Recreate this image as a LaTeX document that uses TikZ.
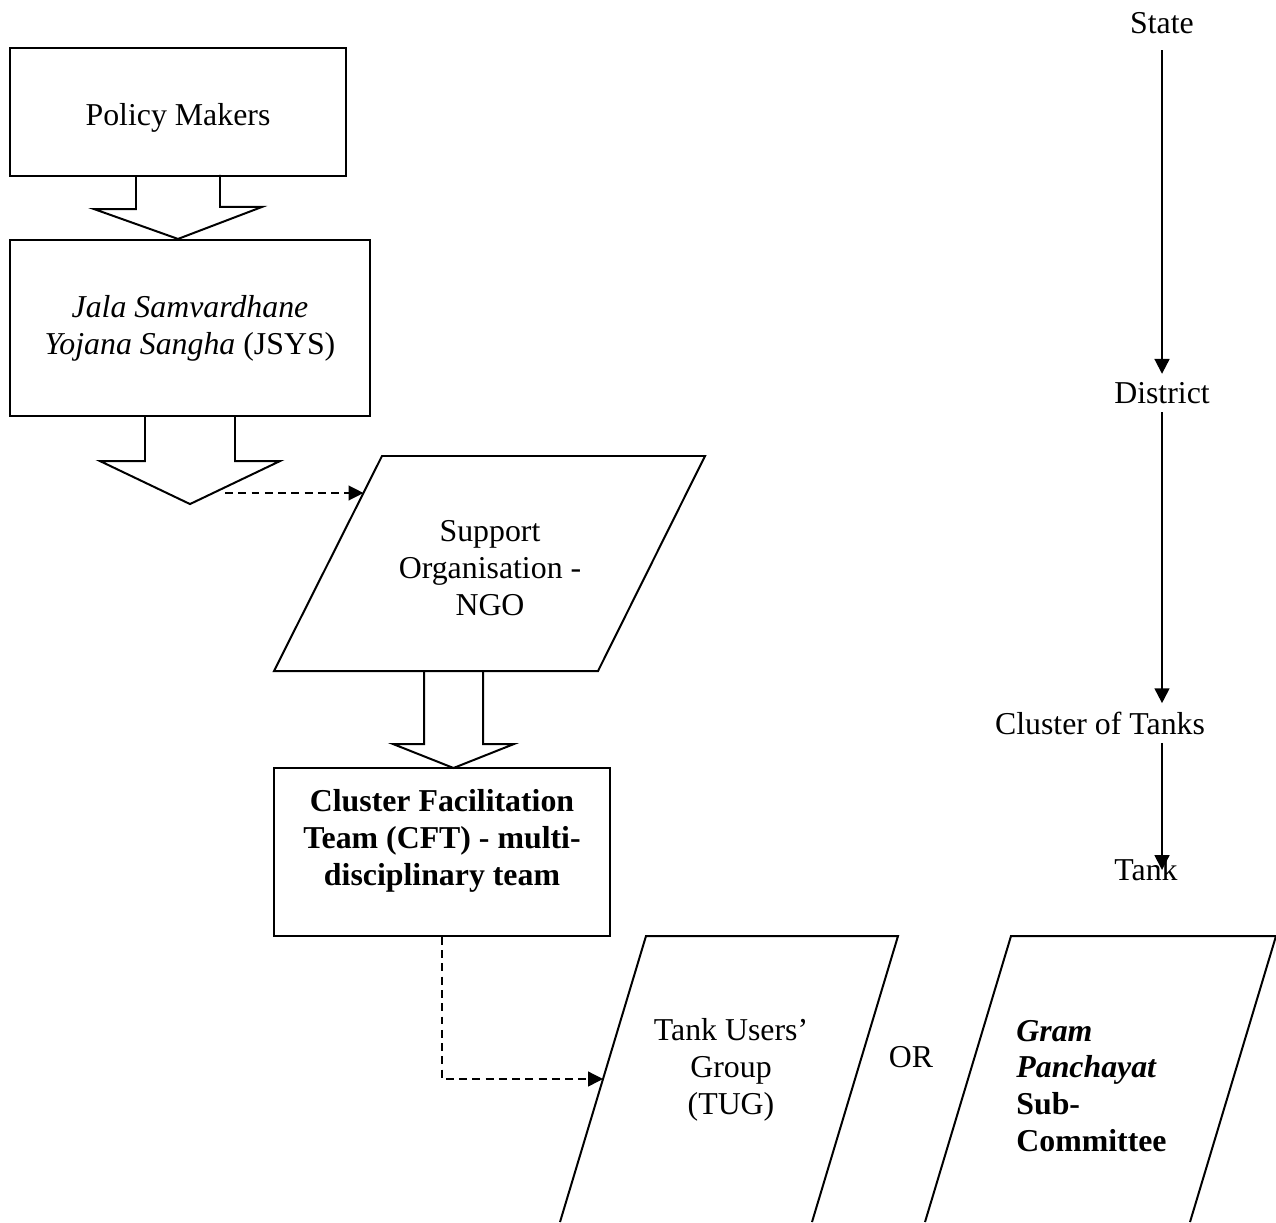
\documentclass[tikz,border=0pt]{standalone}
\usepackage{fontspec}
\setmainfont{Liberation Serif}
\usetikzlibrary{positioning, arrows.meta, calc}

\begin{document}
\begin{tikzpicture}[
    x=0.377pt, y=-0.377pt, % one unit = one pixel of the layout, y downwards
    font=\fontsize{12pt}{13.9pt}\selectfont,
    % Styles
    box/.style={ % Rectangular boxes
        draw,
        line width=0.75pt,
        align=center
    },
    level/.style={ % Levels on the right
        inner sep=3pt
    },
    arrow/.style={
        -{Triangle[width=5.6pt, length=5.6pt]},
        line width=0.75pt
    },
    linkarrow/.style={ % Dashed links
        arrow,
        line width=0.5pt,
        dash pattern=on 3pt off 2pt
    },
    blockarrow/.style={ % Hollow arrows between boxes
        line width=0.75pt,
        line join=miter
    },
    slanted/.style={ % Parallelograms
        line width=0.75pt,
        line join=miter
    }
]
    \useasboundingbox (0,0) rectangle (1276,1222);

    % Boxes on the left
    \node[box, minimum width=126.7pt, minimum height=48.3pt, text height=13pt] (pm) at (178,112) {Policy Makers};
    \node[box, minimum width=135.7pt, minimum height=66.4pt] (jsys) at (190,328)
        {\textit{Jala Samvardhane}\\\textit{Yojana Sangha} (JSYS)};
    \node[box, minimum width=126.7pt, minimum height=63.3pt] (cft) at (442,852) {};
    \node[font=\fontsize{12pt}{13.9pt}\selectfont\bfseries, align=center, anchor=north] (cfttext)
        at ($(cft.north)+(0,13)$) {Cluster Facilitation\\Team (CFT) - multi-\\disciplinary team};

    % Support organisation
    \coordinate (ngoTL) at (382,456);
    \coordinate (ngoTR) at (705,456);
    \coordinate (ngoBR) at (598,671);
    \coordinate (ngoBL) at (274,671);
    \draw[slanted] (ngoTL) -- (ngoTR) -- (ngoBR) -- (ngoBL) -- cycle;
    \node[align=center] (ngo) at (490,568) {Support\\Organisation -\\NGO};
    \coordinate (ngoin) at ($(ngoTL)!0.172!(ngoBL)$);

    % Tank level bodies
    \coordinate (tugTL) at (646,936);
    \coordinate (tugTR) at (898,936);
    \coordinate (tugBR) at (812,1222);
    \coordinate (tugBL) at (560,1222);
    \draw[slanted] (tugBL) -- (tugTL) -- (tugTR) -- (tugBR);
    \node[align=center] (tug) at (731,1070) {Tank Users’\\Group\\(TUG)};
    \coordinate (tugin) at ($(tugTL)!0.5!(tugBL)$);

    \node (or) at (911,1057) {OR};

    \coordinate (gpTL) at (1011,936);
    \coordinate (gpTR) at (1276,936);
    \coordinate (gpBR) at (1190,1222);
    \coordinate (gpBL) at (925,1222);
    \draw[slanted] (gpBL) -- (gpTL) -- (gpTR) -- (gpBR);
    \node[align=left, anchor=west, font=\fontsize{12pt}{13.9pt}\selectfont\bfseries] (gp) at (1007,1086)
        {\textit{Gram}\\\textit{Panchayat}\\Sub-\\Committee};

    % Hollow arrows
    \draw[blockarrow] ($(pm.south)+(-42,0)$) -- ++(0,32) -- ++(-42,0) -- (pm.south |- jsys.north)
        -- ++(84,-32) -- ++(-42,0) -- ++(0,-32);
    \draw[blockarrow] ($(jsys.south)+(-45,0)$) -- ++(0,44) -- ++(-45,0) -- ++(90,43)
        -- ++(90,-43) -- ++(-45,0) -- ++(0,-44);
    \draw[blockarrow] ($(ngoBL)+(150,0)$) -- ++(0,73) -- ++(-31,0) -- ++(60.5,24)
        -- ++(60.5,-24) -- ++(-31,0) -- ++(0,-73);

    % Dashed links
    \coordinate (jsyshead) at (225,493);
    \draw[linkarrow] (jsyshead) -- (ngoin |- jsyshead);
    \draw[linkarrow] (cft.south) |- (tugin);

    % Levels
    \node[level] (state) at (1162,23) {State};
    \node[level] (district) at (1162,393) {District};
    \node[level] (cluster) at (1100,723) {Cluster of Tanks};
    \node[level] (tank) at (1146,870) {Tank};

    \draw[arrow, shorten <=3pt] (state) -- (district);
    \draw[arrow] (district) -- (cluster.north -| district);
    \draw[arrow] (cluster.south -| district) -- (tank.center -| district);
\end{tikzpicture}
\end{document}
